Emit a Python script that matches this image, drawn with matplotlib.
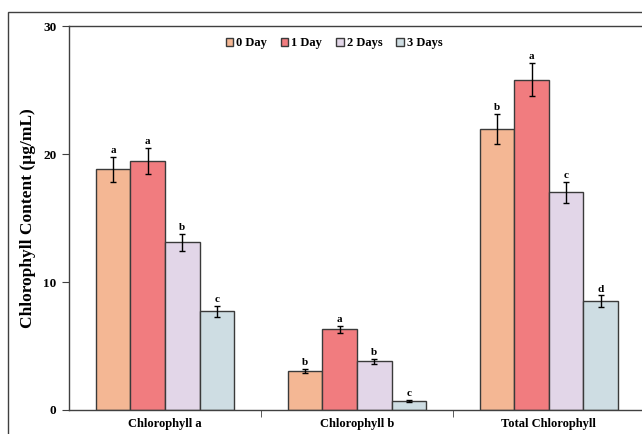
import numpy as np
import matplotlib
matplotlib.use('Agg')
import matplotlib.pyplot as plt
from matplotlib.patches import Rectangle

plt.rcParams['font.family'] = ['Liberation Serif', 'DejaVu Serif']
plt.rcParams['font.weight'] = 'bold'

categories = ['Chlorophyll a', 'Chlorophyll b', 'Total Chlorophyll']
days = ['0 Day', '1 Day', '2 Days', '3 Days']
colors = ['#F4B794', '#F17C7F', '#E2D6E8', '#CEDDE3']

# mean content per day (rows) and pigment (columns)
means = [
    [18.8, 3.05, 21.95],
    [19.45, 6.3, 25.8],
    [13.1, 3.8, 17.0],
    [7.7, 0.7, 8.5],
]
errs = [
    [1.0, 0.15, 1.15],
    [1.0, 0.3, 1.3],
    [0.65, 0.2, 0.85],
    [0.4, 0.05, 0.45],
]
letters = [
    ['a', 'b', 'b'],
    ['a', 'a', 'a'],
    ['b', 'b', 'c'],
    ['c', 'c', 'd'],
]

fig = plt.figure(figsize=(6.42, 4.34), dpi=100)
ax = fig.add_axes([0.1075, 0.0553, 0.897, 0.8847])

# outer chart frame
fig.patches.append(Rectangle((8 / 642, -0.1), 1.2, 1.0 - 12 / 434 + 0.1,
                             transform=fig.transFigure, fill=False,
                             edgecolor='#404040', linewidth=1.0))

x = np.arange(len(categories))
w = 0.18
for i, d in enumerate(days):
    pos = x + (i - 1.5) * w
    ax.bar(pos, means[i], w, color=colors[i], edgecolor='#3a3a3a', linewidth=1.0,
           label=d, zorder=2)
    ax.errorbar(pos, means[i], yerr=errs[i], fmt='none', ecolor='black',
                elinewidth=1.0, capsize=2.2, capthick=1.0, zorder=3)
    for p, m, e, t in zip(pos, means[i], errs[i], letters[i]):
        ax.text(p, m + e + 0.15, t, ha='center', va='bottom', fontsize=8,
                fontweight='bold')

ax.set_xlim(-0.5, 2.5)
ax.set_ylim(0, 30)
ax.set_yticks([0, 10, 20, 30])
ax.set_xticks(x)
ax.set_xticklabels(categories, fontsize=9, fontweight='bold')
ax.set_xticks([0.5, 1.5], minor=True)
ax.tick_params(axis='x', which='major', length=0, pad=6)
ax.tick_params(axis='x', which='minor', length=5, direction='out', color='#404040')
ax.tick_params(axis='y', length=5, direction='out', color='#404040', labelsize=9.5, pad=4)
for lab in ax.get_yticklabels():
    lab.set_fontweight('bold')

for s in ax.spines.values():
    s.set_color('#404040')
    s.set_linewidth(1.0)

ax.set_ylabel('Chlorophyll Content (µg/mL)', fontsize=12.5, fontweight='bold', labelpad=5)

leg = ax.legend(loc='upper center', bbox_to_anchor=(0.46, 1.0), ncol=4, frameon=False,
                handlelength=0.6, handleheight=0.6, handletextpad=0.25,
                columnspacing=1.1, prop={'weight': 'bold', 'size': 9})

fig.savefig('out.png', dpi=100)
